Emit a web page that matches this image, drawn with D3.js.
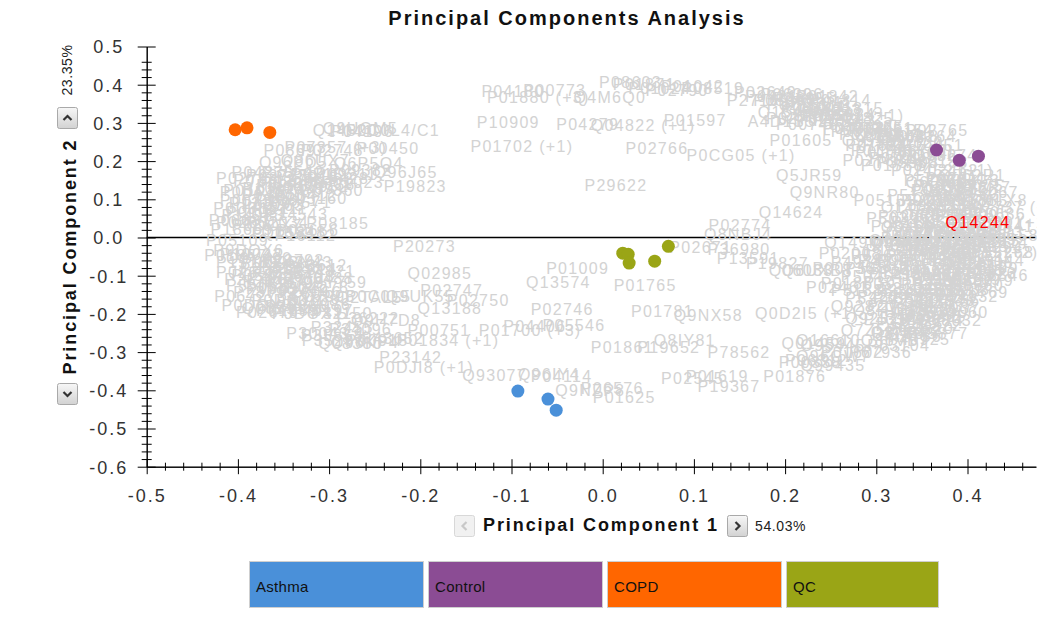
<!DOCTYPE html>
<html>
<head>
<meta charset="utf-8">
<script src="https://cdn.jsdelivr.net/npm/d3@7"></script>
<style>
  html, body { margin: 0; padding: 0; background: #fff; }
  svg { display: block; font-family: "Liberation Sans", Arial, sans-serif; }
</style>
</head>
<body>
<svg id="chart" width="1037" height="626"></svg>
<script>
// ---- Sample scores (PC1, PC2) per group ----
const groups = ["Asthma", "Control", "COPD", "QC"];
const groupColors = ["#4a90d9", "#8b4c94", "#ff6600", "#9aa516"];

const asthmaPC1 = [-0.093, -0.060, -0.051];
const asthmaPC2 = [-0.402, -0.423, -0.452];
const controlPC1 = [0.366, 0.391, 0.412];
const controlPC2 = [0.229, 0.202, 0.213];
const copdPC1 = [-0.403, -0.390, -0.365];
const copdPC2 = [0.282, 0.287, 0.275];
const qcPC1 = [0.022, 0.028, 0.029, 0.057, 0.072];
const qcPC2 = [-0.041, -0.044, -0.067, -0.062, -0.023];

// ---- Axis ticks ----
const xMajor = [-0.5, -0.4, -0.3, -0.2, -0.1, 0.0, 0.1, 0.2, 0.3, 0.4];
const xTickLabels = ["-0.5", "-0.4", "-0.3", "-0.2", "-0.1", "0.0", "0.1", "0.2", "0.3", "0.4"];
const yMajor = [0.5, 0.4, 0.3, 0.2, 0.1, 0.0, -0.1, -0.2, -0.3, -0.4, -0.5, -0.6];
const yTickLabels = ["0.5", "0.4", "0.3", "0.2", "0.1", "0.0", "-0.1", "-0.2", "-0.3", "-0.4", "-0.5", "-0.6"];

// ---- Protein loadings (id, PC1, PC2) ----
const proteinsUpper = [
  ["P04180", -0.133, 0.382], ["P01880 (+3)", -0.127, 0.367], ["P00773", -0.087, 0.385],
  ["Q4M6Q0", -0.032, 0.367], ["P08603", -0.004, 0.406], ["P01871", 0.011, 0.401],
  ["P01024", 0.028, 0.390], ["P02790", 0.047, 0.385], ["P01042", 0.064, 0.395],
  ["P08519", 0.086, 0.390], ["P27169", 0.136, 0.359], ["P02649", 0.144, 0.380],
  ["P04217", 0.156, 0.369], ["P05090", 0.165, 0.359], ["P06396", 0.173, 0.374],
  ["P02751", 0.180, 0.348], ["P36955", 0.187, 0.364], ["P00747", 0.195, 0.338],
  ["Q15485", 0.170, 0.327], ["P01011", 0.206, 0.353], ["P01611", 0.200, 0.343],
  ["P04003", 0.215, 0.332], ["P01591 (+1)", 0.218, 0.319], ["P02753", 0.212, 0.306],
  ["A4D1S5", 0.159, 0.304], ["P02760", 0.179, 0.312], ["P00748", 0.190, 0.296],
  ["P10643", 0.231, 0.306], ["P04004", 0.241, 0.285], ["P00740", 0.250, 0.277],
  ["P07225", 0.261, 0.291], ["P01605", 0.183, 0.254], ["P10909", -0.138, 0.301],
  ["P04279", -0.051, 0.296], ["Q04822 (+1)", -0.013, 0.293], ["P01597", 0.067, 0.306],
  ["P01702 (+1)", -0.145, 0.238], ["P02766", 0.025, 0.233], ["P0CG05 (+1)", 0.092, 0.215],
  ["P29622", -0.020, 0.136], ["Q14624", 0.171, 0.065], ["Q5JR59", 0.190, 0.162],
  ["Q9NR80", 0.205, 0.118], ["P05155", 0.275, 0.097]
];

const proteinsCentral = [
  ["P02774", 0.116, 0.031], ["Q8NBJ4", 0.111, 0.008], ["P02671", 0.073, -0.025],
  ["P36980", 0.115, -0.031], ["P13591", 0.125, -0.055], ["P19827", 0.157, -0.068],
  ["Q06033", 0.182, -0.086], ["Q6UXB8", 0.196, -0.086], ["P00736", 0.230, -0.081],
  ["P02008", 0.237, -0.042], ["Q149M9", 0.243, -0.013], ["Q96KN2", 0.294, -0.013],
  ["P02461", 0.223, -0.130], ["P01860", 0.239, -0.120], ["Q0D2I5 (+1)", 0.167, -0.199],
  ["Q8HWS3", 0.274, -0.191], ["Q01459", 0.196, -0.277], ["Q16610", 0.212, -0.270],
  ["O95445", 0.217, -0.283], ["P01602", 0.239, -0.300], ["P00338", 0.193, -0.327],
  ["P06312", 0.200, -0.322], ["P01876", 0.176, -0.364], ["P78562", 0.115, -0.300],
  ["Q8IY81", 0.056, -0.269], ["P01861", -0.013, -0.287], ["P19652", 0.038, -0.287],
  ["P01619", 0.091, -0.364], ["P02545", 0.064, -0.369], ["P19367", 0.104, -0.390],
  ["Q9NZP8", -0.052, -0.400], ["P06576", -0.024, -0.395], ["P01625", -0.011, -0.418],
  ["Q93077", -0.154, -0.361], ["Q96IY4", -0.093, -0.358], ["P04114", -0.079, -0.364],
  ["P02746", -0.079, -0.188], ["P01700 (+3)", -0.136, -0.243], ["P04406", -0.109, -0.233],
  ["P05546", -0.066, -0.230], ["P01765", 0.012, -0.125], ["P01009", -0.062, -0.081],
  ["Q13574", -0.084, -0.117], ["P01781", 0.031, -0.195], ["Q9NX58", 0.078, -0.204],
  ["P02747", -0.200, -0.139], ["Q02985", -0.214, -0.094], ["P20273", -0.230, -0.024],
  ["P02750", -0.171, -0.165], ["Q13188", -0.203, -0.186], ["Q9UK55", -0.238, -0.154],
  ["P0C0L5", -0.282, -0.154], ["P00751", -0.214, -0.243], ["Q9H7D8", -0.276, -0.217],
  ["P01834 (+1)", -0.226, -0.270], ["P23142", -0.245, -0.313], ["P0DJI8 (+1)", -0.251, -0.340]
];

const proteinsLeft = [
  ["Q14520", -0.318, 0.280], ["P04196", -0.298, 0.277], ["Q9UGM5", -0.307, 0.285],
  ["P0C0L4/C1", -0.282, 0.280], ["P00450", -0.270, 0.233], ["P08697", -0.372, 0.228],
  ["P07357 (+3)", -0.349, 0.236], ["P02748", -0.331, 0.228], ["Q96PD5", -0.377, 0.197],
  ["Q86UX7", -0.353, 0.202], ["Q6P5Q4", -0.295, 0.194], ["P08185", -0.325, 0.037],
  ["P19823", -0.240, 0.134], ["Q96J65", -0.251, 0.170], ["P02768", -0.424, 0.155],
  ["P01019", -0.416, 0.123], ["P00734", -0.420, 0.097], ["P04275", -0.407, 0.170],
  ["P02775", -0.391, 0.162], ["P35542", -0.374, 0.170], ["P27918", -0.358, 0.160],
  ["P05156", -0.342, 0.165], ["P18428", -0.325, 0.155], ["P01023", -0.309, 0.144],
  ["P02787", -0.380, 0.136], ["P00739", -0.363, 0.128], ["P03952", -0.347, 0.133],
  ["P07360", -0.331, 0.123], ["P04070", -0.396, 0.110], ["P0DJI9", -0.427, 0.076],
  ["P01031", -0.413, 0.065], ["P02763", -0.396, 0.084], ["P13671", -0.380, 0.097],
  ["P08571", -0.366, 0.092], ["P05160", -0.349, 0.102], ["P02652", -0.424, 0.039],
  ["P06681", -0.432, 0.045], ["P0DOX7", -0.407, 0.031], ["P01034", -0.391, 0.039],
  ["Q15848", -0.374, 0.013], ["P02656", -0.358, 0.018], ["P05109", -0.435, -0.008],
  ["P0DOX6", -0.427, -0.034], ["P01857", -0.437, -0.047], ["P15169", -0.424, -0.066],
  ["Q9Y490", -0.413, -0.055], ["P00742", -0.396, -0.066], ["P22792", -0.374, -0.060],
  ["Q9BY43", -0.371, -0.066], ["P13612", -0.349, -0.073], ["P02655", -0.424, -0.092],
  ["P05543", -0.407, -0.099], ["P43251", -0.385, -0.092], ["P06703", -0.363, -0.102],
  ["P00488", -0.342, -0.107], ["P55058", -0.413, -0.125], ["P05452", -0.391, -0.133],
  ["P02749", -0.369, -0.139], ["P04278", -0.347, -0.131], ["Q9Y759", -0.331, -0.118],
  ["P0DOY2", -0.385, -0.165], ["P80108", -0.358, -0.165], ["P07996", -0.340, -0.154],
  ["Q2TAL5", -0.292, -0.157], ["P06727", -0.426, -0.154], ["P0DOX5", -0.418, -0.178],
  ["Q03591", -0.396, -0.186], ["P02679", -0.402, -0.196], ["P01859", -0.380, -0.191],
  ["P0DOX2", -0.363, -0.199], ["P40197", -0.342, -0.191], ["P36222", -0.292, -0.212],
  ["P30043", -0.347, -0.251], ["P35858", -0.331, -0.256], ["Q08380", -0.312, -0.277],
  ["Q96KP4", -0.298, -0.275], ["P00915", -0.282, -0.270], ["P43652", -0.265, -0.264],
  ["P07711", -0.405, 0.150], ["P08236", -0.375, 0.145], ["P08758", -0.340, 0.140],
  ["P09211", -0.315, 0.165], ["P09382", -0.300, 0.175], ["P0DP25", -0.420, 0.118],
  ["P10124", -0.395, 0.128], ["P10412", -0.360, 0.110], ["P12109", -0.410, 0.090],
  ["P12111", -0.390, 0.075], ["P14543", -0.370, 0.060], ["P14923", -0.418, 0.058],
  ["P16112", -0.360, 0.005], ["P17655", -0.385, 0.010], ["P18669", -0.430, 0.020],
  ["P19022", -0.420, -0.045], ["P20618", -0.398, -0.080], ["P21333", -0.378, -0.078],
  ["P22314", -0.360, -0.085], ["P24821", -0.340, -0.090], ["P25786", -0.415, -0.110],
  ["P26447", -0.395, -0.115], ["P27797", -0.375, -0.120], ["P28066", -0.355, -0.145],
  ["P28799", -0.405, -0.145], ["P29966", -0.370, -0.180], ["P30086", -0.345, -0.175],
  ["P31150", -0.320, -0.200], ["P32455", -0.320, -0.235], ["P34096", -0.300, -0.240],
  ["P35237", -0.330, -0.270]
];

const proteinsRight = [
  ["P07358", 0.241, 0.285], ["P02743", 0.259, 0.270], ["P03951", 0.272, 0.285],
  ["P13645", 0.285, 0.262], ["P01624", 0.266, 0.241], ["P05154", 0.294, 0.280],
  ["P01620", 0.305, 0.249], ["P04264", 0.319, 0.264], ["P02765", 0.332, 0.280],
  ["P01766", 0.277, 0.223], ["P07998", 0.292, 0.207], ["P06702", 0.310, 0.228],
  ["P10451", 0.327, 0.241], ["P01768 (+3)", 0.272, 0.228], ["P02788", 0.263, 0.202],
  ["P01780", 0.283, 0.188], ["P35908", 0.300, 0.196], ["P02452 (+1)", 0.316, 0.175],
  ["P80188", 0.332, 0.196], ["P02462", 0.343, 0.175], ["P01814", 0.226, 0.359],
  ["P01815", 0.239, 0.338], ["P01824", 0.230, 0.322], ["P01825", 0.250, 0.312],
  ["Q8IWV7", 0.195, 0.319], ["P01842", 0.212, 0.369], ["P02511", 0.354, 0.154],
  ["P04075", 0.371, 0.136], ["P04083", 0.338, 0.123], ["P05067", 0.387, 0.118],
  ["P07237", 0.360, 0.107], ["P07339", 0.327, 0.097], ["P07355", 0.376, 0.097],
  ["P07737 (+1)", 0.393, 0.079], ["P02538", 0.302, 0.055], ["P09486", 0.343, 0.071],
  ["P10599", 0.365, 0.058], ["P11021 (+1)", 0.382, 0.039], ["P11142", 0.316, 0.039],
  ["P12814", 0.327, 0.018], ["P13224", 0.354, 0.024], ["P13473", 0.393, 0.013],
  ["P13646", 0.305, -0.003], ["P13796", 0.327, -0.021], ["P14136", 0.349, -0.008],
  ["P14618", 0.376, -0.024], ["P15814", 0.398, -0.013], ["P16070 (+2)", 0.365, -0.039],
  ["P16401", 0.288, -0.034], ["P17066", 0.310, -0.050], ["P18206", 0.332, -0.060],
  ["P20851", 0.354, -0.055], ["P22105", 0.382, -0.065], ["P23083", 0.283, -0.076],
  ["P24844", 0.303, -0.092], ["P25705", 0.325, -0.081], ["P26927", 0.347, -0.097],
  ["P27348", 0.371, -0.086], ["P29279", 0.382, -0.113], ["P30101", 0.286, -0.118],
  ["P31025", 0.305, -0.134], ["P32004", 0.327, -0.123], ["P33151", 0.349, -0.139],
  ["P34932", 0.365, -0.154], ["P35527", 0.296, -0.160], ["P36957", 0.318, -0.170],
  ["P37837", 0.338, -0.181], ["P39060", 0.354, -0.196], ["P40394", 0.309, -0.207],
  ["P42224", 0.327, -0.217], ["P43220", 0.316, -0.238], ["P45877", 0.332, -0.251],
  ["P47756", 0.303, -0.259], ["P49747", 0.250, -0.065], ["P50454", 0.261, -0.102],
  ["P51888", 0.250, -0.139], ["P52209", 0.266, -0.160], ["P53634", 0.272, -0.047],
  ["P54802", 0.266, -0.081], ["P55001", 0.393, 0.039], ["P55268", 0.404, -0.039],
  ["P56199", 0.387, -0.081], ["P58546", 0.398, -0.099], ["P60660", 0.371, -0.125],
  ["P61769", 0.376, -0.144], ["P62158", 0.409, 0.005], ["P62979", 0.365, 0.005],
  ["P63261", 0.332, -0.149], ["P68032", 0.347, -0.217], ["P68133", 0.340, 0.134],
  ["P69891", 0.321, 0.084], ["P98160", 0.294, 0.029], ["Q03405", 0.310, 0.013],
  ["Q04756", 0.343, -0.165], ["Q06830", 0.358, -0.113], ["Q08431", 0.321, -0.034],
  ["Q12805", 0.340, -0.107], ["Q13201", 0.362, -0.071], ["Q13332", 0.292, -0.008],
  ["Q14515", 0.387, -0.008], ["Q15113", 0.343, -0.029], ["Q16270", 0.373, 0.024],
  ["Q16853", 0.351, 0.097], ["Q562R1", 0.368, 0.162], ["Q6EMK4", 0.332, 0.144],
  ["Q76LX8", 0.393, 0.097], ["Q7Z5P9", 0.261, -0.243], ["Q86VB7", 0.283, -0.270],
  ["Q8NBP7", 0.294, -0.249], ["Q92520", 0.266, -0.212], ["Q92820", 0.250, -0.181],
  ["Q96GW7", 0.212, -0.312], ["Q99435", 0.217, -0.335],
  ["Q9UHG3", 0.355, 0.149], ["Q9Y5Y7", 0.349, 0.128], ["Q9Y6R7", 0.372, 0.131],
  ["O00391", 0.340, 0.102], ["O00533", 0.365, 0.112], ["O14786", 0.305, 0.079],
  ["O15240", 0.355, 0.084], ["O43505", 0.376, 0.066], ["O60938", 0.327, 0.058],
  ["O75636", 0.393, 0.060], ["O94985", 0.305, 0.027], ["O95497", 0.340, 0.040],
  ["P00441", 0.404, 0.029], ["P00558", 0.316, 0.003], ["P02458", 0.338, 0.003],
  ["P02533", 0.380, 0.010], ["P02654", 0.296, -0.020], ["P02776", 0.315, -0.020],
  ["P07195", 0.358, -0.018], ["P08294", 0.392, -0.026], ["P09871", 0.300, -0.060],
  ["P12259", 0.340, -0.045], ["P14151", 0.372, -0.050], ["P15144", 0.394, -0.060],
  ["P17936", 0.292, -0.095], ["P18065", 0.315, -0.100], ["P19320", 0.336, -0.090],
  ["P20742", 0.360, -0.100], ["P22352", 0.376, -0.075], ["P23528", 0.300, -0.140],
  ["P24592", 0.318, -0.150], ["P25311", 0.340, -0.125], ["P26038", 0.356, -0.135],
  ["P27487", 0.290, -0.180], ["P29401", 0.322, -0.190], ["P31946", 0.340, -0.165],
  ["P32119", 0.300, -0.225], ["P35579", 0.318, -0.200], ["P37802", 0.295, -0.250],
  ["P40925", 0.312, -0.268], ["P41222", 0.325, -0.230], ["P43121", 0.286, -0.215],
  ["P48740", 0.279, -0.155], ["P49908", 0.280, -0.060], ["P50395", 0.289, 0.050],
  ["P51884", 0.312, 0.110], ["P52566", 0.330, 0.150], ["P54289", 0.348, 0.060],
  ["P55290", 0.362, 0.010], ["P59665", 0.385, -0.005], ["P60174", 0.350, -0.070],
  ["P60709", 0.368, -0.110], ["P61626", 0.385, -0.095], ["P62805", 0.330, -0.208],
  ["P62937", 0.345, -0.185], ["P63104", 0.290, -0.284], ["P67936", 0.270, -0.300],
  ["P68871", 0.358, -0.040], ["P69905", 0.336, -0.030], ["P78417", 0.285, 0.240],
  ["P80748", 0.300, 0.265], ["Q15582", 0.318, 0.215], ["Q99674", 0.340, 0.215],
  ["Q99969", 0.262, 0.255], ["Q9BXJ4", 0.276, 0.270]
];

const highlightedProtein = ["Q14244", 0.376, 0.039];

const pc1Variance = "54.03%";
const pc2Variance = "23.35%";

// ---- Layout ----
const svg = d3.select("#chart");
const x = d3.scaleLinear().domain([-0.5, 0.475]).range([146.7, 1035.9]);
const y = d3.scaleLinear().domain([-0.6, 0.5]).range([466.7, 46.5]);

// Title
svg.append("text")
  .attr("x", 567).attr("y", 25)
  .attr("text-anchor", "middle")
  .attr("font-size", 20).attr("font-weight", "bold")
  .attr("letter-spacing", "2px")
  .attr("fill", "#111")
  .text("Principal Components Analysis");

// Zero line along PC2 = 0
svg.append("line")
  .attr("x1", x(-0.5)).attr("x2", x(0.475))
  .attr("y1", y(0)).attr("y2", y(0))
  .attr("stroke", "#000").attr("stroke-width", 1.3);

// Protein labels
const allProteins = proteinsUpper.concat(proteinsCentral, proteinsLeft, proteinsRight);
svg.append("g")
  .attr("font-size", 16)
  .attr("letter-spacing", "1.3px")
  .attr("fill", "#d3d3d3")
  .selectAll("text")
  .data(allProteins)
  .join("text")
  .attr("x", d => x(d[1]))
  .attr("y", d => y(d[2]))
  .attr("dominant-baseline", "central")
  .text(d => d[0]);

// Axes
function styleTicks(g, inner, outer, isX) {
  g.selectAll(".tick line")
    .attr(isX ? "y1" : "x1", -inner)
    .attr(isX ? "y2" : "x2", outer)
    .attr("stroke", "#000");
  g.select(".domain").attr("stroke", "#000");
}

const minorTicks = d3.range(-0.6, 0.475, 0.02)
  .map(v => Math.round(v * 100) / 100)
  .filter(v => Math.abs(Math.round(v * 10) - v * 10) > 1e-6);

svg.append("g")
  .attr("transform", `translate(0,${y(-0.6)})`)
  .call(d3.axisBottom(x).tickValues(minorTicks.filter(v => v > -0.5)).tickFormat("").tickSizeOuter(0))
  .call(g => styleTicks(g, 4, 4, true));

svg.append("g")
  .attr("transform", `translate(${x(-0.5)},0)`)
  .call(d3.axisLeft(y).tickValues(minorTicks.filter(v => v <= 0.5)).tickFormat("").tickSizeOuter(0))
  .call(g => styleTicks(g, 5, 5, false));

const xAxis = svg.append("g")
  .attr("transform", `translate(0,${y(-0.6)})`)
  .call(d3.axisBottom(x).tickValues(xMajor).tickFormat((d, i) => xTickLabels[i]).tickSizeOuter(0))
  .call(g => styleTicks(g, 7.5, 7.5, true));
xAxis.selectAll(".tick text")
  .attr("y", 35).attr("dy", null)
  .attr("font-size", 18).attr("letter-spacing", "2px")
  .attr("fill", "#333")
  .attr("font-family", "Liberation Sans, Arial, sans-serif");

const yAxis = svg.append("g")
  .attr("transform", `translate(${x(-0.5)},0)`)
  .call(d3.axisLeft(y).tickValues(yMajor).tickFormat((d, i) => yTickLabels[i]).tickSizeOuter(0))
  .call(g => styleTicks(g, 9, 9, false));
yAxis.selectAll(".tick text")
  .attr("x", -38).attr("dy", "0.36em")
  .attr("text-anchor", "middle")
  .attr("font-size", 18).attr("letter-spacing", "2px")
  .attr("fill", "#333")
  .attr("font-family", "Liberation Sans, Arial, sans-serif");

// Sample points
const groupPC1 = [asthmaPC1, controlPC1, copdPC1, qcPC1];
const groupPC2 = [asthmaPC2, controlPC2, copdPC2, qcPC2];
const points = [];
groups.forEach((g, gi) => {
  groupPC1[gi].forEach((v, i) => points.push({ group: gi, pc1: v, pc2: groupPC2[gi][i] }));
});
svg.append("g").selectAll("circle")
  .data(points)
  .join("circle")
  .attr("cx", d => x(d.pc1))
  .attr("cy", d => y(d.pc2))
  .attr("r", 6.5)
  .attr("fill", d => groupColors[d.group]);

// Highlighted protein
svg.append("text")
  .attr("x", x(highlightedProtein[1]))
  .attr("y", y(highlightedProtein[2]))
  .attr("dominant-baseline", "central")
  .attr("font-size", 16).attr("letter-spacing", "1.3px")
  .attr("fill", "#ff0000")
  .text(highlightedProtein[0]);

// Axis titles
svg.append("text")
  .attr("x", 601).attr("y", 531)
  .attr("text-anchor", "middle")
  .attr("font-size", 18).attr("font-weight", "bold")
  .attr("letter-spacing", "1.9px")
  .attr("fill", "#111")
  .text("Principal Component 1");

svg.append("text")
  .attr("transform", "translate(76,256.5) rotate(-90)")
  .attr("text-anchor", "middle")
  .attr("font-size", 18).attr("font-weight", "bold")
  .attr("letter-spacing", "1.9px")
  .attr("fill", "#111")
  .text("Principal Component 2");

svg.append("text")
  .attr("x", 755).attr("y", 531)
  .attr("font-size", 14).attr("letter-spacing", "0.6px")
  .attr("fill", "#222")
  .text(pc1Variance);

svg.append("text")
  .attr("transform", "translate(72,70) rotate(-90)")
  .attr("text-anchor", "middle")
  .attr("font-size", 14).attr("letter-spacing", "0.6px")
  .attr("fill", "#222")
  .text(pc2Variance);

// Component stepper buttons
const defs = svg.append("defs");
const grad = defs.append("linearGradient").attr("id", "btnGrad")
  .attr("x1", 0).attr("y1", 0).attr("x2", 0).attr("y2", 1);
grad.append("stop").attr("offset", 0).attr("stop-color", "#f7f7f7");
grad.append("stop").attr("offset", 1).attr("stop-color", "#d2d2d2");

function drawButton(bx, by, dir, enabled) {
  const g = svg.append("g").attr("transform", `translate(${bx},${by})`);
  g.append("rect")
    .attr("x", 0.5).attr("y", 0.5).attr("width", 20).attr("height", 21)
    .attr("rx", 2)
    .attr("fill", enabled ? "url(#btnGrad)" : "#f1f1f1")
    .attr("stroke", enabled ? "#a9a9a9" : "#d8d8d8");
  const paths = {
    up: "M6.5,13 L10.5,9 L14.5,13",
    down: "M6.5,9 L10.5,13 L14.5,9",
    left: "M12.5,7 L8.5,11 L12.5,15",
    right: "M8.5,7 L12.5,11 L8.5,15"
  };
  g.append("path")
    .attr("d", paths[dir])
    .attr("fill", "none")
    .attr("stroke", enabled ? "#333" : "#c8c8c8")
    .attr("stroke-width", 2.2);
}
drawButton(57, 107, "up", true);
drawButton(57, 383, "down", true);
drawButton(454, 515, "left", false);
drawButton(727, 515, "right", true);

// Legend
const legendX = [249, 428, 607, 786];
const legendW = [174, 174, 174, 152];
const legend = svg.append("g");
groups.forEach((g, i) => {
  legend.append("rect")
    .attr("x", legendX[i] + 0.5).attr("y", 561.5)
    .attr("width", legendW[i]).attr("height", 46)
    .attr("fill", groupColors[i])
    .attr("stroke", "#cfcfcf");
  legend.append("text")
    .attr("x", legendX[i] + 7).attr("y", 592)
    .attr("font-size", 15).attr("letter-spacing", "0.3px")
    .attr("fill", "#111")
    .text(g);
});
</script>
</body>
</html>
